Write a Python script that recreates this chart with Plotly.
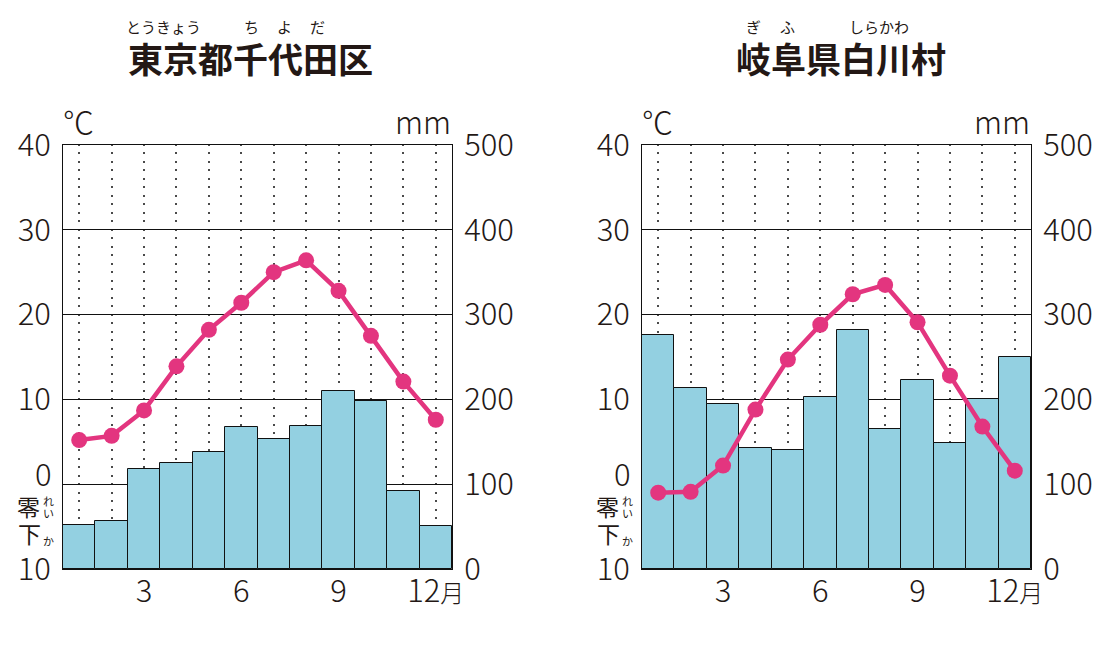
import plotly.graph_objects as go

# ---------------- data ----------------
months = [1, 2, 3, 4, 5, 6, 7, 8, 9, 10, 11, 12]
month_ticktext = ["", "", "3", "", "", "6", "", "", "9", "", "", "12<span style='font-size:24px'>月</span>"]

tokyo_name = "東京都千代田区"
tokyo_temp = [5.2, 5.7, 8.7, 13.9, 18.2, 21.4, 25.0, 26.4, 22.8, 17.5, 12.1, 7.6]
tokyo_prec = [52.3, 56.1, 117.5, 124.5, 137.8, 167.7, 153.5, 168.2, 209.9, 197.8, 92.5, 51.0]

shirakawa_name = "岐阜県白川村"
shirakawa_temp = [-1.0, -0.9, 2.2, 8.8, 14.7, 18.8, 22.4, 23.5, 19.1, 12.8, 6.8, 1.6]
shirakawa_prec = [275.7, 213.8, 194.9, 142.8, 140.5, 203.2, 281.7, 165.3, 223.3, 148.8, 200.8, 250.5]

temp_ticks = [-10, 0, 10, 20, 30, 40]
temp_ticktext = ["10", "", "10", "20", "30", "40"]
prec_ticks = [0, 100, 200, 300, 400, 500]
prec_ticktext = ["0", "100", "200", "300", "400", "500"]

# ---------------- style ----------------
OFF = 8  # default page margin around the plot div
W, H = 1114 - OFF, 646 - OFF
FONT = "Noto Sans CJK JP"
TXT = "#231815"
BAR_COLOR = "#93D0E1"
LINE_COLOR = "#E3357F"
DOT_COLOR = "#4a4a4a"
TOP, BOTTOM = 145, 569
PANELS = [(63, 452), (642, 1031)]


def px(x):
    return (x - OFF) / W


def py(y):
    return 1 - (y - OFF) / H


fig = go.Figure()

datasets = [(tokyo_temp, tokyo_prec), (shirakawa_temp, shirakawa_prec)]
for i, (temp, prec) in enumerate(datasets):
    xa = "x" if i == 0 else "x2"
    ya_p = "y" if i == 0 else "y3"
    ya_t = "y2" if i == 0 else "y4"
    fig.add_trace(go.Bar(
        x=months, y=prec, xaxis=xa, yaxis=ya_p, width=1,
        marker=dict(color=BAR_COLOR, line=dict(color="#111", width=1)),
        showlegend=False, hoverinfo="skip"))
    fig.add_trace(go.Scatter(
        x=months, y=temp, xaxis=xa, yaxis=ya_t, mode="lines+markers",
        line=dict(color=LINE_COLOR, width=4.5),
        marker=dict(color=LINE_COLOR, size=16),
        showlegend=False, hoverinfo="skip"))

tickfont = dict(family=FONT, size=31, color=TXT, weight=300)
per_deg = (BOTTOM - TOP) / 50.0
dash = f"1px,{per_deg - 2:.2f}px,1px,0px"

layout = dict(
    width=W, height=H, margin=dict(l=0, r=0, t=0, b=0, autoexpand=False),
    paper_bgcolor="white", plot_bgcolor="white",
    font=dict(family=FONT, color=TXT),
    bargap=0,
)

ydom = [py(BOTTOM), py(TOP)]
for i, (x0, x1) in enumerate(PANELS):
    xname = "xaxis" if i == 0 else "xaxis2"
    ypn = "yaxis" if i == 0 else "yaxis3"
    ytn = "yaxis2" if i == 0 else "yaxis4"
    ypid = "y" if i == 0 else "y3"
    xid = "x" if i == 0 else "x2"
    layout[xname] = dict(
        domain=[px(x0), px(x1)], range=[0.5, 12.5], anchor=ypid,
        tickvals=months, ticktext=month_ticktext, ticks="",
        tickfont=tickfont, ticklabelstandoff=-5, automargin=False,
        showgrid=True, gridcolor=DOT_COLOR, gridwidth=2, griddash=dash,
        showline=True, linecolor="#111", linewidth=1, mirror=True,
        zeroline=False, fixedrange=True)
    layout[ypn] = dict(
        domain=ydom, range=[0, 500], anchor=xid, side="right",
        tickvals=prec_ticks, ticktext=prec_ticktext, ticks="",
        tickfont=tickfont, ticklabelstandoff=5, automargin=False,
        showgrid=True, gridcolor="#111", gridwidth=1,
        showline=True, linecolor="#111", linewidth=1, mirror=True,
        zeroline=False, fixedrange=True)
    layout[ytn] = dict(
        range=[-10, 40], overlaying=ypid, anchor=xid, side="left",
        tickvals=temp_ticks, ticktext=temp_ticktext, ticks="",
        tickfont=tickfont, ticklabelstandoff=5, automargin=False,
        showgrid=False, showline=True, linecolor="#111", linewidth=1,
        zeroline=False, fixedrange=True)

fig.update_layout(**layout)

ann = []


def text(x, y, s, size, xanchor="center", weight=None):
    f = dict(family=FONT, size=size, color=TXT)
    if weight is not None:
        f["weight"] = weight
    ann.append(dict(x=px(x), y=py(y), xref="paper", yref="paper", text=s,
                    showarrow=False, xanchor=xanchor, yanchor="middle", font=f))


# titles and furigana
text(250.5, 58, tokyo_name, 35, weight=700)
text(163, 26, "とうきょう", 15)
text(251, 26, "ち", 15)
text(284, 26, "よ", 15)
text(317, 26, "だ", 15)

text(840.5, 57, shirakawa_name, 35, weight=700)
text(753, 26, "ぎ", 15)
text(787, 26, "ふ", 15)
text(879, 26, "しらかわ", 15)

for i, (x0, x1) in enumerate(PANELS):
    dx = x0 - 63
    text(x0 - 2, 120, "℃", 31, xanchor="left", weight=300)
    text(x1 + 1, 121, "mm", 31, xanchor="right", weight=300)
    text(54 + dx, 472, "0", 31, xanchor="right", weight=300)
    text(28 + dx, 506, "零", 23)
    text(29 + dx, 533, "下", 23)
    text(48 + dx, 501, "れ", 11)
    text(48 + dx, 513, "い", 11)
    text(48 + dx, 541, "か", 11)

fig.update_layout(annotations=ann)
fig.write_html("out.html")
